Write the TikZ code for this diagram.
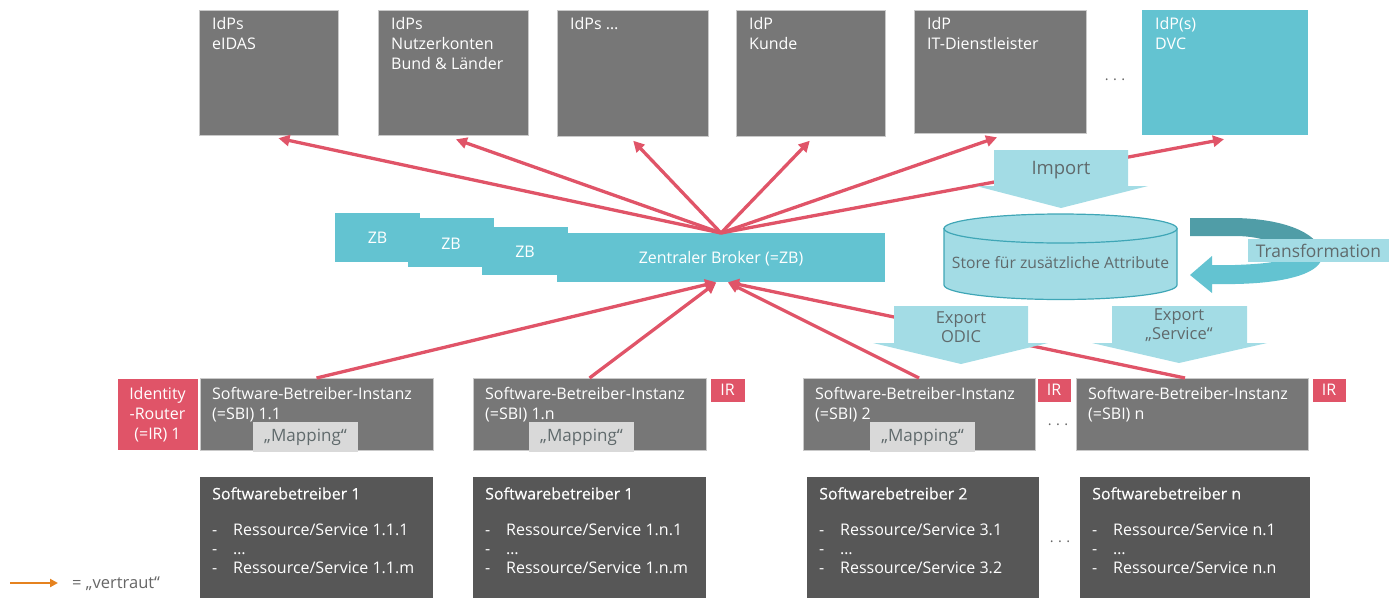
\documentclass[tikz,border=0pt]{standalone}
\usepackage{fontspec}
\setmainfont{Open Sans}
\newfontfamily\semib[FakeBold=0.3]{Open Sans}
\usetikzlibrary{arrows.meta}
\definecolor{boxgray}{HTML}{777777}
\definecolor{boxborder}{HTML}{C9C9C9}
\definecolor{darkbox}{HTML}{575757}
\definecolor{tealc}{HTML}{63C3D1}
\definecolor{lightcyan}{HTML}{A3DCE5}
\definecolor{darkteal}{HTML}{509DA7}
\definecolor{cylborder}{HTML}{3FA6B6}
\definecolor{redc}{HTML}{E05468}
\definecolor{mapgray}{HTML}{D9D9D9}
\definecolor{textgray}{HTML}{606A6C}
\definecolor{dotgray}{HTML}{666666}
\definecolor{orangec}{HTML}{E5821F}
\begin{document}
\begin{tikzpicture}[x=1pt,y=-1pt,
  base/.style={inner sep=0pt, outer sep=0pt, anchor=north west},
  idpbox/.style={base, fill=boxgray, draw=boxborder, line width=0.8pt},
  tealbox/.style={base, fill=tealc},
  darkbox/.style={base, fill=darkbox},
  irbox/.style={base, fill=redc, draw=white, line width=0.6pt},
  mapbox/.style={base, fill=mapgray},
  wtxt/.style={inner sep=0pt, anchor=north west, align=left, text=white, font=\fontsize{16}{20}\selectfont},
  ctxt/.style={inner sep=0pt, align=center, text=white, font=\fontsize{16}{20}\selectfont},
  gtxt/.style={inner sep=0pt, align=center, text=textgray, font=\fontsize{16.5}{19}\selectfont},
  maptxt/.style={inner sep=0pt, text=textgray, font=\fontsize{17}{19}\selectfont},
  listtxt/.style={inner sep=0pt, anchor=north west, align=left, text=white, font=\fontsize{16}{19}\selectfont},
  titletxt/.style={inner sep=0pt, anchor=north west, text=white, font=\fontsize{16}{19}\semib},
  dots/.style={inner sep=0pt, text=dotgray, font=\fontsize{14.5}{18}\selectfont\addfontfeature{LetterSpace=30}},
  redarrow/.style={draw=redc, line width=3.3pt, -{Triangle[length=11pt,width=11pt]}, shorten >=1pt},
  cyanarrow/.style={fill=lightcyan}
]
\useasboundingbox (0,0) rectangle (1389,598);

% ---------- top IdP boxes ----------
\node[idpbox, minimum width=139, minimum height=125] (idp1) at (199,10) {};
\node[idpbox, minimum width=150, minimum height=125] (idp2) at (378,10) {};
\node[idpbox, minimum width=151, minimum height=126] (idp3) at (557,10) {};
\node[idpbox, minimum width=149, minimum height=126] (idp4) at (736,10) {};
\node[idpbox, minimum width=172, minimum height=123] (idp5) at (914,10) {};
\node[tealbox, minimum width=166, minimum height=125] (idp6) at (1142,10) {};
\node[wtxt] (t1) at (212,17) {IdPs\\eIDAS};
\node[wtxt] (t2) at (391,17) {IdPs\\Nutzerkonten\\Bund \& Länder};
\node[wtxt] (t3) at (570,17) {IdPs …};
\node[wtxt] (t4) at (749,17) {IdP\\Kunde};
\node[wtxt] (t5) at (927,17) {IdP\\IT-Dienstleister};
\node[wtxt] (t6) at (1155,17) {IdP(s)\\DVC};
\node[dots] (dtop) at (1115,80) {...};

% ---------- broker ----------
\node[tealbox, minimum width=85, minimum height=49] (zb1) at (335,213) {};
\node[tealbox, minimum width=86, minimum height=49] (zb2) at (408,218) {};
\node[tealbox, minimum width=86, minimum height=48] (zb3) at (482,227) {};
\node[tealbox, minimum width=328, minimum height=49] (zbmain) at (557,233) {};
\node[ctxt] at (zb1.center) {ZB};
\node[ctxt] at ([shift={(0,1)}]zb2.center) {ZB};
\node[ctxt] at ([shift={(0,1)}]zb3.center) {ZB};
\node[ctxt] at ([shift={(0,1)}]zbmain.center) {Zentraler Broker (=ZB)};

% ---------- SBI row ----------
\node[irbox, minimum width=81, minimum height=72] (ir1) at (117,378) {};
\node[ctxt, anchor=north] at (157.5,387) {Identity\\-Router\\(=IR) 1};
\node[idpbox, minimum width=233, minimum height=72] (sbi11) at (200,378) {};
\node[idpbox, minimum width=233, minimum height=72] (sbi1n) at (473,378) {};
\node[idpbox, minimum width=232, minimum height=72] (sbi2) at (803,378) {};
\node[idpbox, minimum width=232, minimum height=72] (sbin) at (1076,378) {};
\node[wtxt] at (212,387) {Software-Betreiber-Instanz\\(=SBI) 1.1};
\node[wtxt] at (485,387) {Software-Betreiber-Instanz\\(=SBI) 1.n};
\node[wtxt] at (815,387) {Software-Betreiber-Instanz\\(=SBI) 2};
\node[wtxt] at (1088,387) {Software-Betreiber-Instanz\\(=SBI) n};
\node[mapbox, minimum width=105, minimum height=30] (map11) at (253,422) {};
\node[mapbox, minimum width=105, minimum height=30] (map1n) at (529,422) {};
\node[mapbox, minimum width=105, minimum height=30] (map2) at (870,422) {};
\node[maptxt] at (map11.center) {„Mapping“};
\node[maptxt] at (map1n.center) {„Mapping“};
\node[maptxt] at (map2.center) {„Mapping“};
\node[irbox, minimum width=35, minimum height=24] (ir1n) at (710,378) {};
\node[irbox, minimum width=34, minimum height=24] (ir2) at (1037,378) {};
\node[irbox, minimum width=34, minimum height=24] (irn) at (1312,378) {};
\node[ctxt] at (ir1n.center) {IR};
\node[ctxt] at (ir2.center) {IR};
\node[ctxt] at (irn.center) {IR};
\node[dots] (dmid) at (1058,425) {...};

% ---------- Softwarebetreiber boxes ----------
\node[darkbox, minimum width=233, minimum height=121] (sb1) at (200,477) {};
\node[darkbox, minimum width=233, minimum height=121] (sb1n) at (473,477) {};
\node[darkbox, minimum width=232, minimum height=121] (sb2) at (807,477) {};
\node[darkbox, minimum width=230, minimum height=121] (sbn) at (1080,477) {};
\node[titletxt] at (212,487) {Softwarebetreiber 1};
\node[titletxt] at (485,487) {Softwarebetreiber 1};
\node[titletxt] at (819,487) {Softwarebetreiber 2};
\node[titletxt] at (1092,487) {Softwarebetreiber n};
\node[listtxt] at (212,524) {\makebox[21pt][l]{-}Ressource/Service 1.1.1\\\makebox[21pt][l]{-}…\\\makebox[21pt][l]{-}Ressource/Service 1.1.m};
\node[listtxt] at (485,524) {\makebox[21pt][l]{-}Ressource/Service 1.n.1\\\makebox[21pt][l]{-}…\\\makebox[21pt][l]{-}Ressource/Service 1.n.m};
\node[listtxt] at (819,524) {\makebox[21pt][l]{-}Ressource/Service 3.1\\\makebox[21pt][l]{-}…\\\makebox[21pt][l]{-}Ressource/Service 3.2};
\node[listtxt] at (1092,524) {\makebox[21pt][l]{-}Ressource/Service n.1\\\makebox[21pt][l]{-}…\\\makebox[21pt][l]{-}Ressource/Service n.n};
\node[dots] (dbot) at (1060,542) {...};

% ---------- red trust connectors ----------
\draw[redarrow] (zbmain.north) -- ([shift={(9,3)}]idp1.south);
\draw[redarrow] (zbmain.north) -- ([shift={(2,4)}]idp2.south);
\draw[redarrow] (zbmain.north) -- ([shift={(0,4)}]idp3.south);
\draw[redarrow] (zbmain.north) -- ([shift={(0,4)}]idp4.south);
\draw[redarrow] (zbmain.north) -- ([shift={(-2,4)}]idp5.south);
\draw[redarrow] (zbmain.north) -- ([shift={(0,4)}]idp6.south);
\draw[redarrow] (sbi11.north) -- ([shift={(-4,0)}]zbmain.south);
\draw[redarrow] (sbi1n.north) -- ([shift={(-4,0)}]zbmain.south);
\draw[redarrow] (sbi2.north) -- ([shift={(6,0)}]zbmain.south);
\draw[redarrow] ([shift={(-7,0)}]sbin.north) -- ([shift={(6,0)}]zbmain.south);

% ---------- store, import, export, transformation ----------
\path[fill=lightcyan, draw=cylborder, line width=1.2pt]
  (944,228.5) -- (944,285) .. controls (944,293) and (996.2,299.5) .. (1060.5,299.5)
  .. controls (1124.8,299.5) and (1177,293) .. (1177,285) -- (1177,228.5) -- cycle;
\draw[fill=lightcyan, draw=cylborder, line width=1.2pt] (1060.5,228.5) ellipse [x radius=116.5, y radius=14.5];
\node[gtxt, font=\fontsize{15.7}{18}\selectfont] (store) at (1060.5,263) {Store für zusätzliche Attribute};

\fill[cyanarrow] (994,150) -- (1128,150) -- (1128,186) -- (1148,186) -- (1061,208) -- (976,186) -- (994,186) -- cycle;
\node[gtxt, font=\fontsize{18.5}{20}\selectfont] (imp) at (1061,170) {Import};

\fill[cyanarrow] (894,306) -- (1028,306) -- (1028,343) -- (1048,343) -- (961,364) -- (873,343) -- (894,343) -- cycle;
\node[gtxt] (exp1) at (961,327) {Export\\ODIC};
\fill[cyanarrow] (1112,306) -- (1247,306) -- (1247,343) -- (1267,343) -- (1179,363) -- (1092,343) -- (1112,343) -- cycle;
\node[gtxt] (exp2) at (1179,325) {Export\\„Service“};

\fill[darkteal] (1190,218) -- (1235,218) .. controls (1290,219) and (1322,236) .. (1322,256)
  -- (1290,256) .. controls (1284,246) and (1265,236) .. (1235,236) -- (1190,236) -- cycle;
\fill[tealc] (1322,256) .. controls (1322,272) and (1290,283) .. (1235,284) -- (1212,284)
  -- (1212,293) -- (1190,275) -- (1212,256) -- (1212,265) -- (1235,265)
  .. controls (1262,264) and (1284,262) .. (1290,256) -- cycle;
\node[fill=lightcyan, inner sep=0pt, minimum width=141, minimum height=23, text=textgray,
  font=\fontsize{17.4}{19}\selectfont] (trans) at (1318.5,250.5) {Transformation};

% ---------- legend ----------
\coordinate (legA) at (10,583);
\coordinate (legB) at (58,583);
\draw[orangec, line width=2pt, -{Triangle[length=8pt,width=8pt]}] (legA) -- (legB);
\node[inner sep=0pt, anchor=west, text=dotgray, font=\fontsize{16.5}{18}\selectfont] (leg) at (72,584) {= „vertraut“};
\end{tikzpicture}
\end{document}
